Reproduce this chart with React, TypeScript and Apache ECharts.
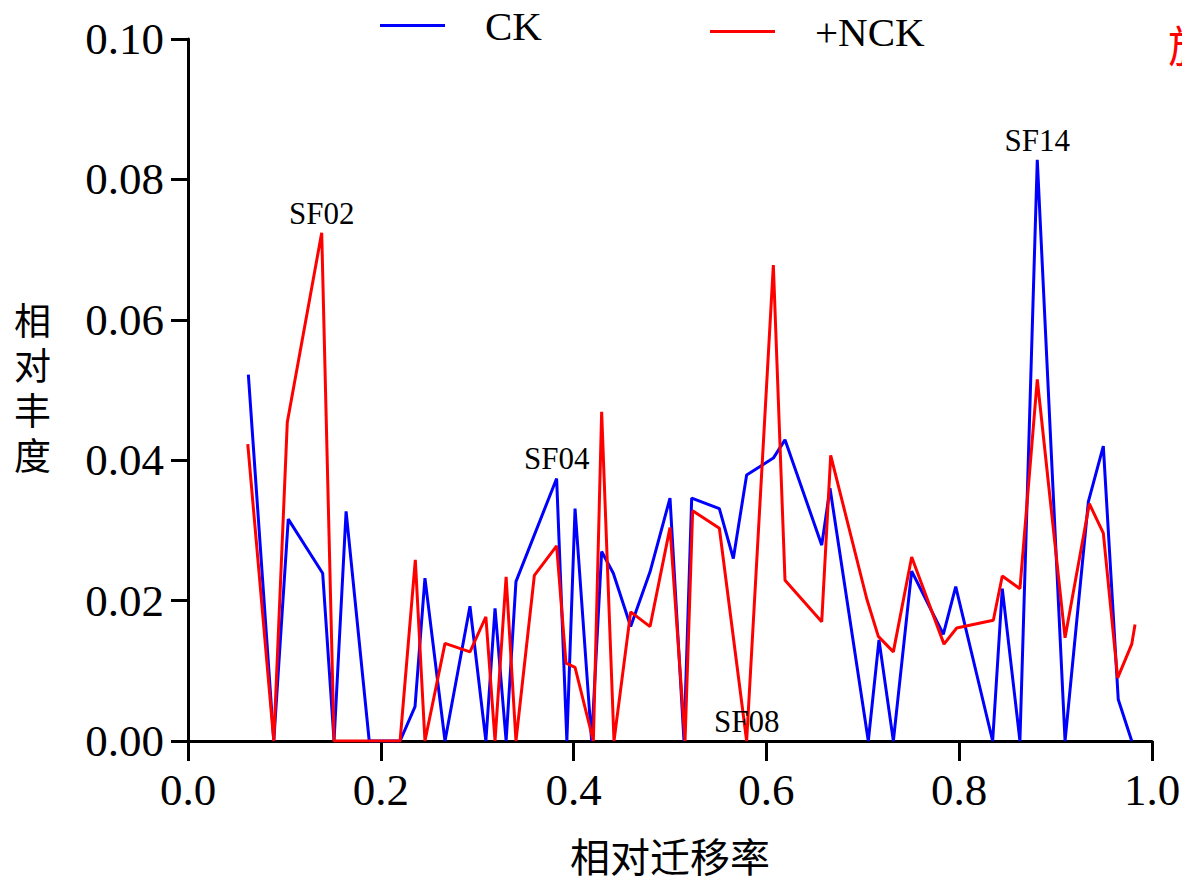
import React, { useEffect, useRef } from "react";
import * as echarts from "echarts";

// Relative migration rate (x) and relative abundance (y)
const ckPoints: [number, number][] = [
  [0.0626, 0.0522], [0.089, 0], [0.104, 0.0316], [0.1397, 0.0239], [0.1515, 0],
  [0.164, 0.0327], [0.188, 0], [0.22, 0], [0.2355, 0.0049], [0.2458, 0.0232],
  [0.2666, 0], [0.2925, 0.0192], [0.309, 0], [0.3185, 0.0189], [0.33, 0],
  [0.3402, 0.0227], [0.3824, 0.0374], [0.393, 0], [0.4015, 0.0331], [0.4187, 0],
  [0.4291, 0.027], [0.4412, 0.0239], [0.4592, 0.0163], [0.4793, 0.0241], [0.5, 0.0346],
  [0.5145, 0], [0.5225, 0.0346], [0.5512, 0.0331], [0.5657, 0.026], [0.5795, 0.0379],
  [0.6072, 0.0403], [0.6193, 0.0429], [0.6574, 0.0279], [0.666, 0.036], [0.7057, 0],
  [0.7168, 0.0144], [0.7317, 0], [0.7507, 0.0242], [0.7835, 0.0152], [0.7964, 0.022],
  [0.8347, 0], [0.8447, 0.0217], [0.863, 0], [0.881, 0.0828], [0.9098, 0],
  [0.934, 0.0341], [0.9495, 0.042], [0.965, 0.0059], [0.979, 0],
];

const nckPoints: [number, number][] = [
  [0.062, 0.0423], [0.089, 0], [0.103, 0.0454], [0.1387, 0.0724], [0.1515, 0],
  [0.22, 0], [0.2358, 0.0258], [0.2458, 0], [0.2666, 0.0139], [0.2925, 0.0127],
  [0.309, 0.0177], [0.3185, 0], [0.33, 0.0234], [0.3402, 0], [0.3593, 0.0236],
  [0.3824, 0.0278], [0.3921, 0.0111], [0.4015, 0.0105], [0.4205, 0], [0.4291, 0.0469],
  [0.4419, 0], [0.4592, 0.0184], [0.4793, 0.0163], [0.5, 0.0304], [0.5156, 0],
  [0.5235, 0.0328], [0.5512, 0.0303], [0.5795, 0], [0.6072, 0.0678], [0.6193, 0.0229],
  [0.6574, 0.017], [0.6667, 0.0407], [0.704, 0.0203], [0.7161, 0.0149], [0.7317, 0.0127],
  [0.7507, 0.0262], [0.7842, 0.0138], [0.7974, 0.0161], [0.8354, 0.0172], [0.8447, 0.0235],
  [0.863, 0.0217], [0.881, 0.0515], [0.9098, 0.0147], [0.935, 0.0338], [0.9495, 0.0296],
  [0.9644, 0.009], [0.979, 0.0138], [0.9824, 0.0166],
];

const ckLabels = [
  { name: "SF04", coord: [0.3824, 0.0374] },
  { name: "SF14", coord: [0.881, 0.0828] },
];
const nckLabels = [
  { name: "SF02", coord: [0.1387, 0.0724] },
  { name: "SF08", coord: [0.5795, 0] },
];

const seriesNames = ["CK", "+NCK"];
const seriesColors = ["#0000ff", "#ff0000"];

const SERIF = "'Liberation Serif', 'Times New Roman', serif";
const CJK = "'Noto Sans CJK SC', sans-serif";

export default function App() {
  const ref = useRef<HTMLDivElement>(null);
  useEffect(() => {
    if (!ref.current) return;
    const chart = echarts.init(ref.current, undefined, { renderer: "svg" });
    const markLabel = {
      show: true,
      position: "top",
      distance: 4,
      formatter: "{b}",
      color: "#000",
      fontSize: 31,
      fontFamily: SERIF,
    };
    const legendBase = {
      icon: "rect",
      itemWidth: 65,
      itemHeight: 3,
      textStyle: { fontSize: 41, fontFamily: SERIF, color: "#000", padding: [0, 0, 0, 35] },
    };
    chart.setOption({
      animation: false,
      backgroundColor: "#fff",
      grid: { left: 188, right: 30, top: 39, bottom: 144, outerBoundsMode: "none", containLabel: false },
      legend: [
        { ...legendBase, data: [seriesNames[0]], left: 375, top: 0 },
        { ...legendBase, data: [seriesNames[1]], left: 705, top: 6 },
      ],
      xAxis: {
        type: "value",
        min: 0,
        max: 1,
        interval: 0.2,
        name: "相对迁移率",
        nameLocation: "middle",
        nameGap: 94,
        nameTextStyle: { fontSize: 40, fontFamily: CJK, color: "#000" },
        axisLine: { show: true, onZero: false, lineStyle: { color: "#000", width: 3 } },
        axisTick: { show: true, length: 20, lineStyle: { color: "#000", width: 3 } },
        axisLabel: {
          margin: 26,
          fontSize: 45,
          fontFamily: SERIF,
          color: "#000",
          formatter: (v: number) => v.toFixed(1),
        },
        splitLine: { show: false },
      },
      yAxis: {
        type: "value",
        min: 0,
        max: 0.1,
        interval: 0.02,
        name: "相\n对\n丰\n度",
        nameLocation: "middle",
        nameRotate: 0,
        nameGap: 137,
        nameTextStyle: {
          fontSize: 37,
          lineHeight: 45,
          fontFamily: "'Liberation Serif', 'Noto Sans CJK SC', serif",
          color: "#000",
          padding: [0, 0, 14, 0],
        },
        axisLine: { show: true, lineStyle: { color: "#000", width: 3 } },
        axisTick: { show: true, length: 17, lineStyle: { color: "#000", width: 3 } },
        axisLabel: {
          margin: 24,
          fontSize: 45,
          fontFamily: SERIF,
          color: "#000",
          formatter: (v: number) => v.toFixed(2),
        },
        splitLine: { show: false },
      },
      series: [
        {
          name: seriesNames[0],
          type: "line",
          data: ckPoints,
          symbol: "none",
          color: seriesColors[0],
          lineStyle: { color: seriesColors[0], width: 3 },
          markPoint: {
            symbol: "circle",
            symbolSize: 0,
            label: markLabel,
            data: ckLabels.map((d) => ({ name: d.name, coord: d.coord })),
          },
        },
        {
          name: seriesNames[1],
          type: "line",
          data: nckPoints,
          symbol: "none",
          color: seriesColors[1],
          lineStyle: { color: seriesColors[1], width: 3 },
          markPoint: {
            symbol: "circle",
            symbolSize: 0,
            label: markLabel,
            data: nckLabels.map((d) => ({ name: d.name, coord: d.coord })),
          },
        },
      ],
      graphic: [
        {
          type: "text",
          left: 1168,
          top: 22,
          style: { text: "施", fill: "#ff0000", fontSize: 44, fontFamily: CJK },
        },
      ],
    });
    return () => chart.dispose();
  }, []);
  return (
    <div
      ref={ref}
      style={{ position: "fixed", left: 0, top: 0, width: 1182, height: 885, background: "#fff" }}
    />
  );
}
